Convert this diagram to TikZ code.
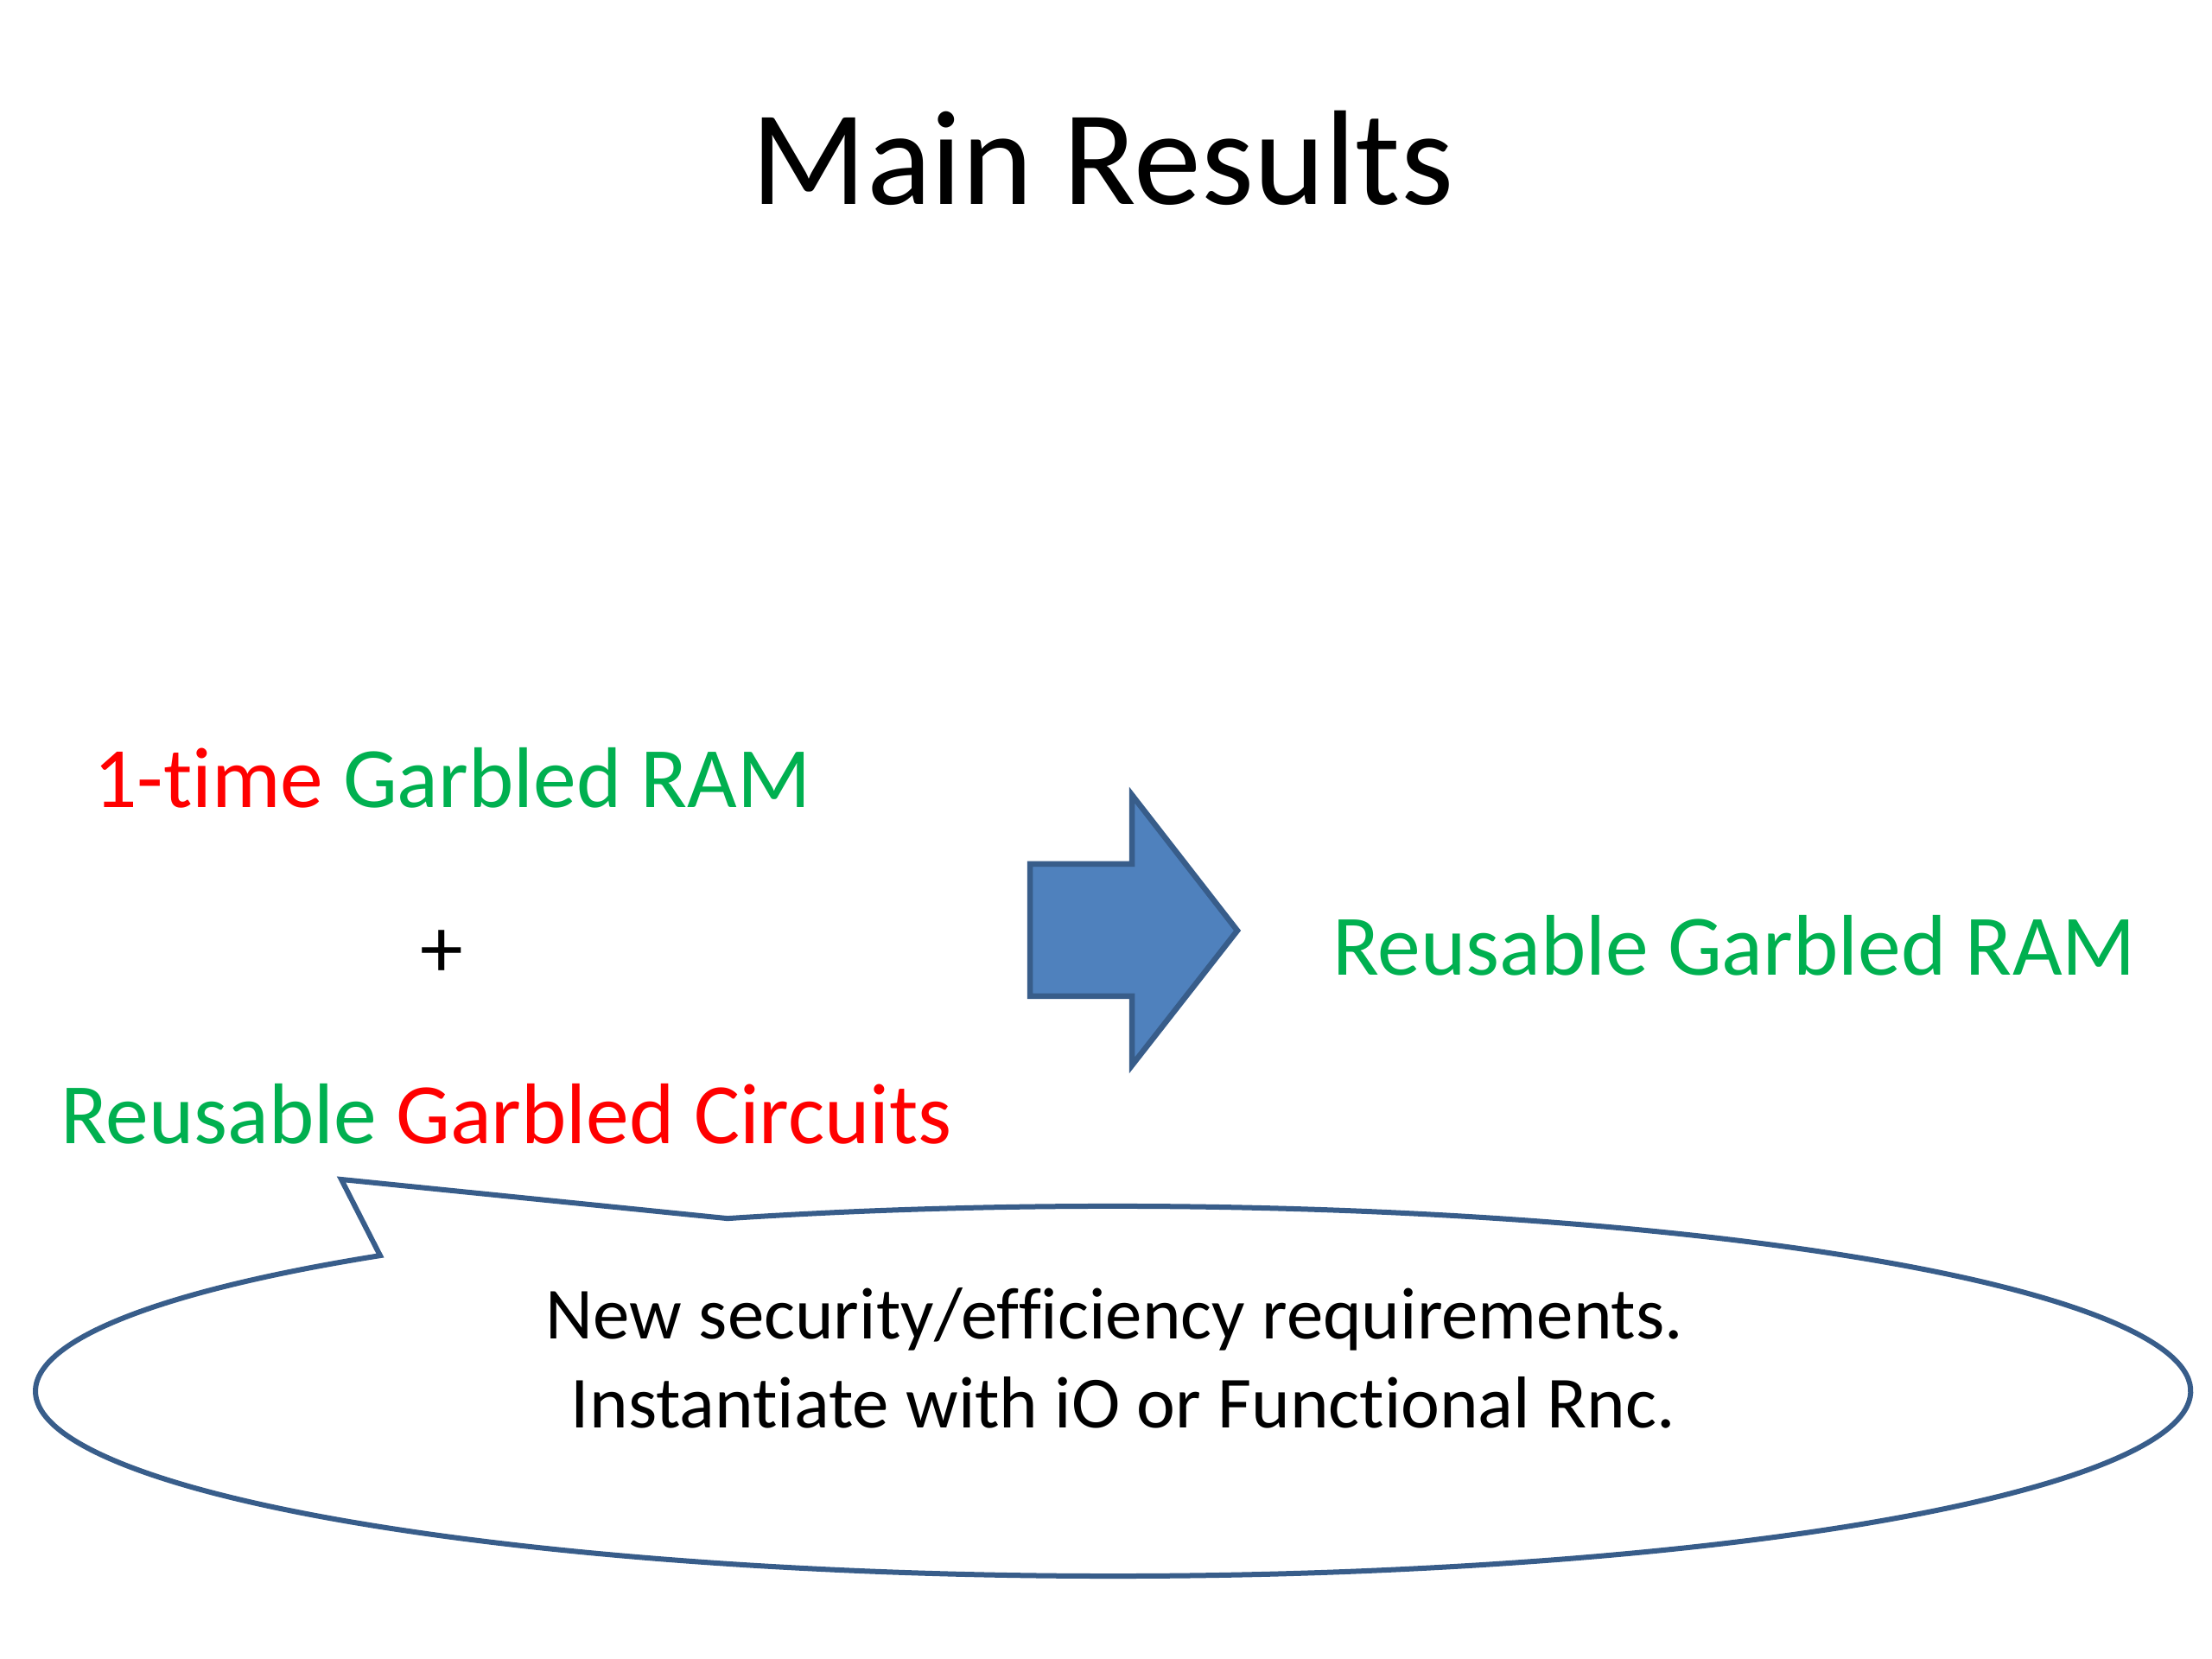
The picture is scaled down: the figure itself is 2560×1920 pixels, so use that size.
\documentclass[tikz,border=0pt]{standalone}
\usepackage{fontspec}
\usetikzlibrary{calc}
\setmainfont{Carlito}[Ligatures=NoCommon]
\definecolor{pgreen}{HTML}{00B050}
\definecolor{pred}{HTML}{FF0000}
\definecolor{afill}{HTML}{4F81BD}
\definecolor{aline}{HTML}{385D8A}
\begin{document}
\begin{tikzpicture}[x=1pt,y=1pt,
  titletext/.style={font=\fontsize{156}{187}\selectfont, inner sep=0pt, anchor=base},
  bodytext/.style={font=\fontsize{99.6}{120}\selectfont, inner sep=0pt, anchor=base},
  calltext/.style={font=\fontsize{85}{100}\selectfont, inner sep=0pt, anchor=base},
  bigarrow/.style={fill=afill, draw=aline, line width=6.5pt, line join=miter},
  callout/.style={draw=aline, line width=6pt, line join=miter}]
\useasboundingbox[fill=white] (0,0) rectangle (2560,1920);
% title
\node[titletext] (title) at (1276,1683) {Main Results};
% left texts
\node[bodytext] (onetime) at (523.5,985) {\textcolor{pred}{1-time} \textcolor{pgreen}{Garbled RAM}};
\node[bodytext] (plus) at (511,788) {+};
\node[bodytext] (rgc) at (586,596) {\textcolor{pgreen}{Reusable} \textcolor{pred}{Garbled Circuits}};
% right text
\node[bodytext, text=pgreen] (rgram) at (2007,791) {Reusable Garbled RAM};
% block arrow
\draw[bigarrow] (1192,920) -- (1310,920) -- (1310,1000) -- (1432,843) -- (1310,687) -- (1310,767) -- (1192,767) -- cycle;
% callout
\coordinate (ec) at (1288,310);
\coordinate (tip) at (395,555);
\draw[callout] ($(ec)+(110.96:1247 and 214)$) arc[start angle=110.96, end angle=-227.15, x radius=1247, y radius=214] -- (tip) -- cycle;
\node[calltext] (l1) at (1290,370) {New security/efficiency requirements.};
\node[calltext] (l2) at (1300,267) {Instantiate with iO or Functional Rnc.};
\end{tikzpicture}
\end{document}
